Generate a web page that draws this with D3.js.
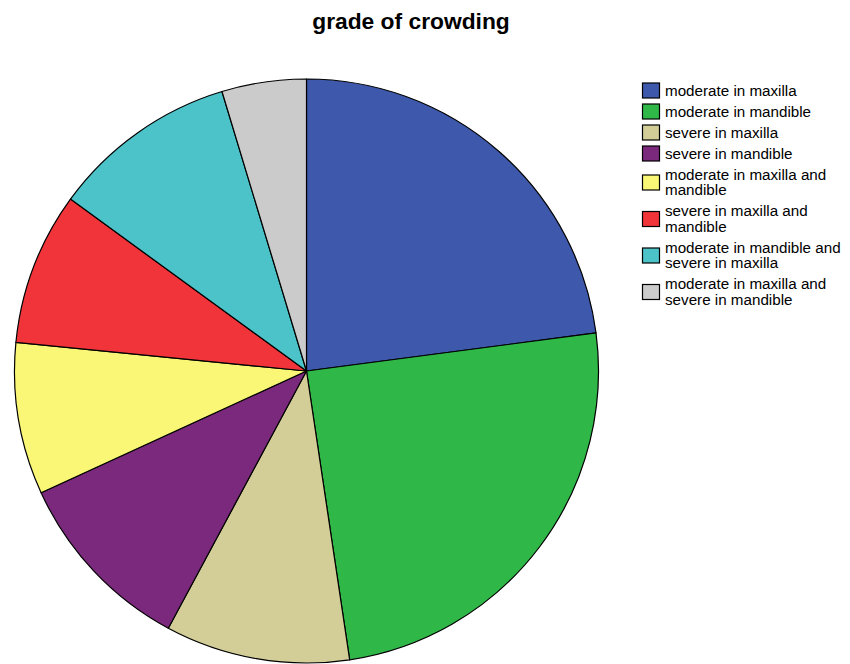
<!DOCTYPE html>
<html><head><meta charset="utf-8">
<script src="https://cdn.jsdelivr.net/npm/d3@7"></script>
<style>body{margin:0;background:#fff}svg{display:block}</style>
</head><body>
<script>
const categories = [
  "moderate in maxilla",
  "moderate in mandible",
  "severe in maxilla",
  "severe in mandible",
  "moderate in maxilla and mandible",
  "severe in maxilla and mandible",
  "moderate in mandible and severe in maxilla",
  "moderate in maxilla and severe in mandible"
];
const legendLines = [
  ["moderate in maxilla"],
  ["moderate in mandible"],
  ["severe in maxilla"],
  ["severe in mandible"],
  ["moderate in maxilla and", "mandible"],
  ["severe in maxilla and", "mandible"],
  ["moderate in mandible and", "severe in maxilla"],
  ["moderate in maxilla and", "severe in mandible"]
];
const values = [22.9, 24.7, 10.2, 10.3, 8.4, 8.45, 10.3, 4.67];
const colors = ["#3e58ac", "#2fb847", "#d3ce97", "#7b297c", "#fbf776", "#f0343a", "#4bc3c9", "#cbcbcb"];
const title = "grade of crowding";

const W = 850, H = 664;
const svg = d3.select("body").append("svg").attr("width", W).attr("height", H);
const font = "'Liberation Sans', Arial, sans-serif";

svg.append("text").attr("x", 411).attr("y", 29).attr("text-anchor", "middle")
  .attr("font-family", font).attr("font-weight", "bold").attr("font-size", 22.8)
  .text(title);

const cx = 306.5, cy = 371, r = 292;
const pie = d3.pie().sort(null).value(d => d)(values);
const arc = d3.arc().innerRadius(0).outerRadius(r);
const g = svg.append("g").attr("transform", `translate(${cx},${cy})`);
g.selectAll("path").data(pie).join("path")
  .attr("d", arc).attr("fill", (d, i) => colors[i])
  .attr("stroke", "#000").attr("stroke-width", 1.2).attr("stroke-linejoin", "round");

// legend
const rowCenters = [];
let y = 90.5;
legendLines.forEach((lines, i) => {
  if (i > 0) {
    const prevLines = legendLines[i - 1].length;
    y += (prevLines === 1 && lines.length === 1) ? 21 : (prevLines === 1 ? 29 : 36.5);
  }
  rowCenters.push(y);
});
const lg = svg.append("g");
legendLines.forEach((lines, i) => {
  const yc = rowCenters[i];
  lg.append("rect").attr("x", 642.5).attr("y", yc - 7.5).attr("width", 17).attr("height", 15)
    .attr("fill", colors[i]).attr("stroke", "#000").attr("stroke-width", 1.2);
  const t = lg.append("text").attr("font-family", font).attr("font-size", 15.2).attr("fill", "#000");
  const n = lines.length;
  lines.forEach((ln, j) => {
    const ly = yc + (j - (n - 1) / 2) * 15.5 + 5;
    t.append("tspan").attr("x", 665).attr("y", ly).text(ln);
  });
});
</script>
</body></html>
